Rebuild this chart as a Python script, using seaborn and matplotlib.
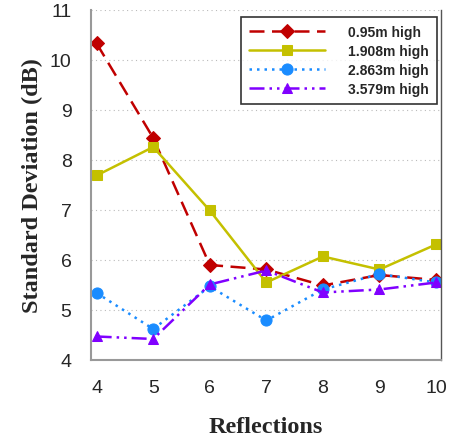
import matplotlib
matplotlib.use("Agg")
import matplotlib.pyplot as plt
import seaborn as sns
import pandas as pd

reflections = [4, 5, 6, 7, 8, 9, 10]
labels = ["0.95m high", "1.908m high", "2.863m high", "3.579m high"]
h095 = [10.33, 8.44, 5.90, 5.81, 5.49, 5.70, 5.60]
h1908 = [7.69, 8.26, 6.99, 5.55, 6.07, 5.81, 6.31]
h2863 = [5.34, 4.62, 5.47, 4.79, 5.41, 5.72, 5.55]
h3579 = [4.47, 4.42, 5.51, 5.79, 5.35, 5.41, 5.55]
yticks = [4, 5, 6, 7, 8, 9, 10, 11]

sns.set_theme(style="white")
plt.rcParams['font.family'] = ['Liberation Sans', 'DejaVu Sans']

fig = plt.figure(figsize=(4.5, 4.39), dpi=100)
ax = fig.add_axes([0.2022, 0.1777, 0.778, 0.7973])

series = [h095, h1908, h2863, h3579]
colors = ["#C00000", "#C4C000", "#1A8CFF", "#8000FF"]
markers = ["D", "s", "o", "^"]
styles = [(0, (6, 3)), "-", (0, (1, 2)), (0, (6, 2, 1, 2, 1, 2))]
msizes = [7, 7, 8, 7]

for vals, lab, c, m, ls, ms in zip(series, labels, colors, markers, styles, msizes):
    df = pd.DataFrame({"x": reflections, "y": vals})
    sns.lineplot(data=df, x="x", y="y", ax=ax, color=c, marker=m, markersize=ms,
                 markeredgecolor=c, linestyle=ls, linewidth=1.8, label=lab)

ax.set_xlim(3.9, 10.09)
ax.set_ylim(4, 11)
ax.set_xticks(reflections)
ax.set_yticks(yticks)
ax.tick_params(axis='both', labelsize=14, length=5, color="#999999", direction="out")
ax.tick_params(axis='x', pad=9)
ax.tick_params(axis='y', pad=9)
ax.yaxis.grid(True, linestyle=(0, (1, 3)), color="#bbbbbb", linewidth=0.8)
ax.xaxis.grid(False)
for s in ["left", "bottom", "right"]:
    ax.spines[s].set_color("#999999")
    ax.spines[s].set_linewidth(1.5)
ax.spines["right"].set_color("#555555")
ax.spines["right"].set_linewidth(1)
ax.spines["top"].set_visible(False)

ax.set_xlabel("Reflections", fontfamily="Liberation Serif", fontweight="bold", fontsize=17.5, labelpad=14)
ax.set_ylabel("Standard Deviation (dB)", fontfamily="Liberation Serif", fontweight="bold", fontsize=17.5, labelpad=5)

leg = ax.legend(loc="upper right", bbox_to_anchor=(1.007, 1.0), frameon=True, fancybox=False,
                edgecolor="black", handlelength=5.5, handletextpad=1.6, labelspacing=0.35,
                prop={"weight": "bold", "size": 10}, borderpad=0.6)
leg.get_frame().set_linewidth(1.2)

fig.savefig("out.png", dpi=100)
